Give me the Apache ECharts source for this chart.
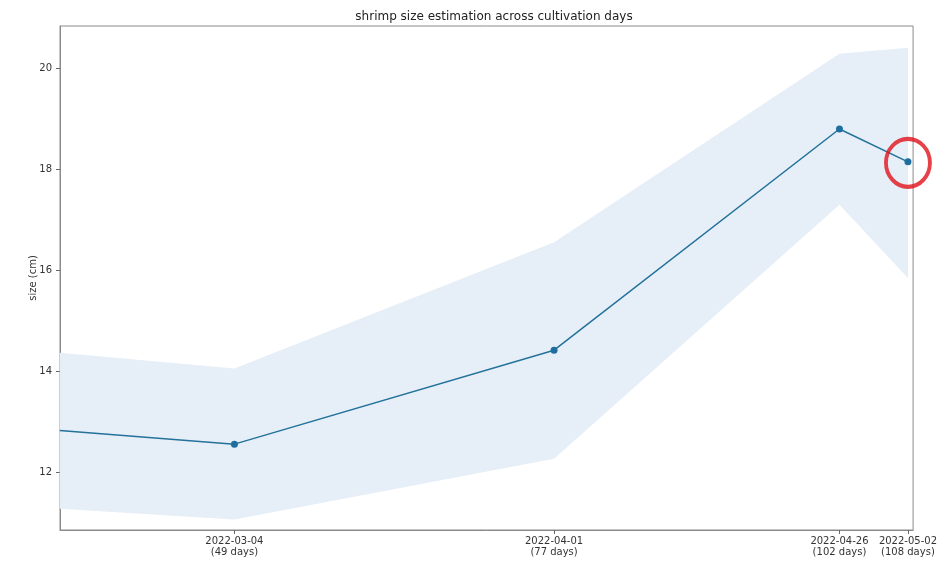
<!DOCTYPE html>
<html><head><meta charset="utf-8">
<script src="https://cdn.jsdelivr.net/npm/echarts@6/dist/echarts.min.js"></script>
<style>html,body{margin:0;padding:0;background:#fff}#c{width:940px;height:561px}</style>
</head><body><div id="c"></div>
<script>
// data (x = cultivation day)
const days = [33.7, 49, 77, 102, 108];
const meanSize = [12.82, 12.55, 14.41, 18.79, 18.14];
const lowerSize = [11.27, 11.06, 12.26, 17.29, 15.84];
const upperSize = [14.36, 14.05, 16.55, 20.28, 20.40];
const markedDays = [49, 77, 102, 108];
const dateLabels = ['2022-03-04', '2022-04-01', '2022-04-26', '2022-05-02'];
const yTicks = [12, 14, 16, 18, 20];
const highlight = [[108, 18.12]];

const font = 'DejaVu Sans';
const chart = echarts.init(document.getElementById('c'));
const lineData = days.map((d, i) => ({value: [d, meanSize[i]], symbol: markedDays.includes(d) ? 'circle' : 'none'}));
chart.setOption({
  animation: false,
  title: {text: 'shrimp size estimation across cultivation days', left: 489, textAlign: 'center', top: 6,
    textStyle: {fontFamily: font, fontSize: 12, fontWeight: 'normal', color: '#222'}},
  grid: {left: 60, right: 23, top: 26, bottom: 31, show: true, borderColor: '#8a8a8a', borderWidth: 1, backgroundColor: 'transparent'},
  xAxis: {type: 'value', min: 33.72, max: 108.45, splitLine: {show: false},
    axisLine: {lineStyle: {color: '#8a8a8a'}},
    axisTick: {customValues: markedDays, length: 4, lineStyle: {color: '#666'}},
    axisLabel: {customValues: markedDays, fontFamily: font, fontSize: 10, color: '#333', lineHeight: 11, margin: 6,
      formatter: v => { const i = markedDays.indexOf(v); return i < 0 ? '' : dateLabels[i] + '\n(' + v + ' days)'; }}},
  yAxis: {type: 'value', min: 10.85, max: 20.83, splitLine: {show: false},
    name: 'size (cm)', nameLocation: 'middle', nameGap: 22, nameMoveOverlap: false,
    nameTextStyle: {fontFamily: font, fontSize: 10, color: '#333'},
    axisLine: {show: true, lineStyle: {color: '#8a8a8a'}},
    axisTick: {show: true, customValues: yTicks, length: 4, lineStyle: {color: '#666'}},
    axisLabel: {customValues: yTicks, fontFamily: font, fontSize: 10, color: '#333', margin: 8}},
  series: [
    {type: 'custom', data: [0], silent: true, z: 1,
      renderItem: (params, api) => {
        const pts = [];
        days.forEach((d, i) => pts.push(api.coord([d, upperSize[i]])));
        for (let i = days.length - 1; i >= 0; i--) pts.push(api.coord([days[i], lowerSize[i]]));
        return {type: 'polygon', shape: {points: pts}, style: {fill: '#e6eef7'}};
      }},
    {type: 'line', data: lineData, symbolSize: 7, lineStyle: {color: '#23729b', width: 1.5},
      itemStyle: {color: '#1f6ea0'}, z: 5},
    {type: 'scatter', data: highlight, symbol: 'circle', symbolSize: [44, 48],
      itemStyle: {color: 'rgba(0,0,0,0)', borderColor: '#e0121a', borderWidth: 4}, z: 10, clip: false}
  ]
});
</script></body></html>
